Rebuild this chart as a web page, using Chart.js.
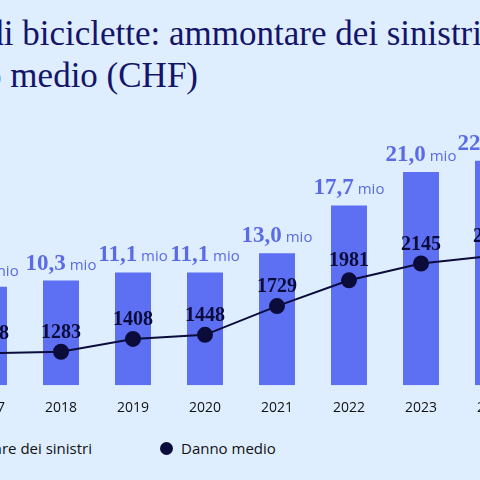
<!DOCTYPE html>
<html><head><meta charset="utf-8">
<script src="https://cdn.jsdelivr.net/npm/chart.js@4/dist/chart.umd.min.js"></script>
<style>
body{margin:0;background:#deeeff;width:480px;height:480px;overflow:hidden;position:relative;font-family:"Open Sans",sans-serif}
.t{position:absolute;white-space:nowrap;font-family:"Liberation Serif","DejaVu Serif",serif;color:#14146a;font-size:35px}
#wrap{position:absolute;left:-56px;top:100px;width:594px;height:322px}
.lg{position:absolute;top:438px;font-size:15px;color:#111;white-space:nowrap}
</style></head><body>
<div class="t" style="right:-2px;top:14px">Furti di biciclette: ammontare dei sinistri</div>
<div class="t" style="right:282px;top:56px">e danno medio (CHF)</div>
<div id="wrap"><canvas id="c"></canvas></div>
<div class="lg" style="right:388px"><span style="display:inline-block;width:12px;height:12px;background:#5d6ff2;margin-right:8px"></span>Ammontare dei sinistri</div>
<div class="lg" style="left:160px"><span style="display:inline-block;width:13px;height:13px;border-radius:50%;background:#0c0c3a;margin-right:8px;vertical-align:-1px"></span>Danno medio</div>
<script>
const years = ["2017","2018","2019","2020","2021","2022","2023","2024"];
const amounts = [9.7, 10.3, 11.1, 11.1, 13.0, 17.7, 21.0, 22.1];
const avgDamage = [1268, 1283, 1408, 1448, 1729, 1981, 2145, 2220];

const labelsPlugin = {
  id: "labels",
  afterDatasetsDraw(chart) {
    const ctx = chart.ctx;
    ctx.save();
    ctx.textBaseline = "alphabetic";
    chart.getDatasetMeta(0).data.forEach((bar, i) => {
      const num = amounts[i].toFixed(1).replace(".", ",");
      ctx.font = "bold 23px 'Liberation Serif', serif";
      const w1 = ctx.measureText(num).width;
      ctx.font = "15px 'Open Sans', sans-serif";
      const w2 = ctx.measureText(" mio").width;
      let x = bar.x - (w1 + w2) / 2;
      ctx.fillStyle = "#5b6be6";
      ctx.font = "bold 23px 'Liberation Serif', serif";
      ctx.textAlign = "left";
      ctx.fillText(num, x, bar.y - 11);
      ctx.font = "15px 'Open Sans', sans-serif";
      ctx.fillText(" mio", x + w1, bar.y - 11);
    });
    ctx.fillStyle = "#0c0c3a";
    ctx.font = "bold 20px 'Liberation Serif', serif";
    ctx.textAlign = "center";
    chart.getDatasetMeta(1).data.forEach((pt, i) => {
      ctx.fillText(String(avgDamage[i]), pt.x, pt.y - 14);
    });
    ctx.restore();
  }
};

new Chart(document.getElementById("c"), {
  data: {
    labels: years,
    datasets: [
      { type: "bar", data: amounts, yAxisID: "y", backgroundColor: "#5d6ff2",
        barPercentage: 0.5, categoryPercentage: 1, order: 2 },
      { type: "line", data: avgDamage, yAxisID: "y1", borderColor: "#0c0c3a",
        backgroundColor: "#0c0c3a", borderWidth: 2, pointRadius: 7, tension: 0, order: 1 }
    ]
  },
  options: {
    responsive: true,
    maintainAspectRatio: false,
    animation: false,
    layout: { padding: 0 },
    plugins: { legend: { display: false }, tooltip: { enabled: false } },
    scales: {
      x: { grid: { display: false }, border: { display: false },
        ticks: { color: "#111", font: { size: 14, family: "Open Sans" }, padding: 6 } },
      y: { display: false, min: 0, max: 27.2 },
      y1: { display: false, min: 956, max: 3655 }
    }
  },
  plugins: [labelsPlugin]
});
</script>
</body></html>
